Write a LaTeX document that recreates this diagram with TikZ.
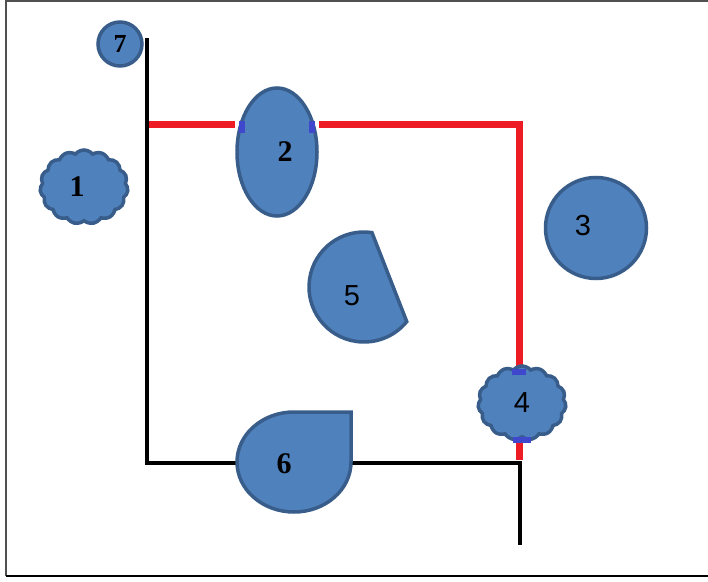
\documentclass[tikz,border=0pt]{standalone}
\usepackage{fontspec}
\setmainfont{Liberation Serif}
\newfontfamily\arialf{Liberation Sans}
\usetikzlibrary{shapes.geometric,shapes.symbols,backgrounds,calc}
\definecolor{shapefill}{HTML}{4F81BD}
\definecolor{shapeline}{HTML}{385D8A}
\definecolor{redln}{HTML}{ED1C24}
\definecolor{markblue}{HTML}{3F48CC}
\definecolor{framegray}{HTML}{505050}
\tikzset{
  shp/.style={fill=shapefill, draw=shapeline, line width=3.5pt},
  numserif/.style={font=\fontsize{30}{30}\selectfont\bfseries},
  numsans/.style={font=\arialf\fontsize{29}{29}\selectfont},
  cloudshp/.style={shp, cloud, cloud puffs=15, cloud puff arc=100, minimum width=88pt, minimum height=74pt, inner sep=0pt},
  redline/.style={draw=redln, line width=7pt},
  blkline/.style={draw=black, line width=4pt},
  cpmark/.style={fill=markblue, draw=none},
}
\begin{document}
\begin{tikzpicture}[x=1pt,y=1pt]
\useasboundingbox (0,0) rectangle (708,581);
% frame
\draw[framegray, line width=1.5pt] (712,580) -- (6,580) -- (6,5);
\draw[black, line width=2pt] (6,5) -- (712,5);
% free line ends
\coordinate (redL) at (147,456);
\coordinate (redC) at (519,456);
\coordinate (redB) at (519,121);
\coordinate (blkT) at (147,543);
\coordinate (blkC1) at (147,118);
\coordinate (blkC2) at (520,118);
\coordinate (blkB) at (520,36);
% nodes
\node[shp, circle, minimum size=44pt, inner sep=0pt, font=\fontsize{26}{26}\selectfont\bfseries] (n7) at (120,537) {7};
\node[shp, ellipse, minimum width=80pt, minimum height=128pt, inner sep=0pt, numserif] (n2) at (277,429) {\kern16pt 2};
\node[cloudshp, numserif] (n1) at (84,394) {1\kern14pt};
\node[shp, circle, minimum size=101pt, inner sep=0pt, numsans] (n3) at (596,353) {\raisebox{6pt}{3}\kern26pt};
\path[shp] (364,294) ++(81.7:55) arc[start angle=81.7, end angle=321, radius=55] -- cycle;
\node[numsans] (n5) at (352,285) {5};
\path[shp] (294,169) -- (351,169) -- (351,119) arc[start angle=0, end angle=-270, x radius=57, y radius=50] -- cycle;
\node[numserif] (n6) at (284,117) {6};
\node[cloudshp, numsans] (n4) at (522,178) {4};
% connectors behind
\begin{scope}[on background layer]
\draw[redline] (redL) -- (redL -| n2.west);
\draw[redline] (redL -| n2.east) -- (redC) -- (redC |- n4.center);
\draw[redline] (redB |- n4.center) -- (redB);
\draw[blkline] (blkT) -- (blkC1) -- (blkC2) -- (blkB);
\end{scope}
% connection marks
\fill[cpmark] (239,448) rectangle ++(6,12);
\fill[cpmark] (309,448) rectangle ++(6,12);
\fill[cpmark] (512,206) rectangle ++(14,6);
\fill[cpmark] (513,138) rectangle ++(18,6);
\end{tikzpicture}
\end{document}
